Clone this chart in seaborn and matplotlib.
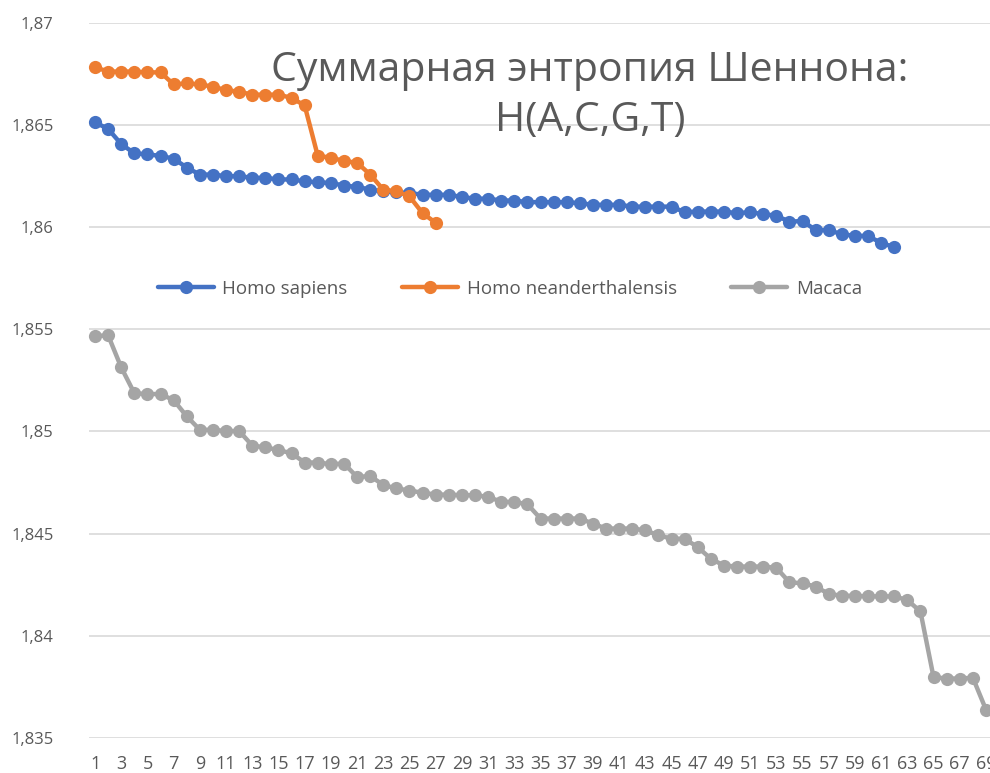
import numpy as np
import pandas as pd
import seaborn as sns
import matplotlib.pyplot as plt
from matplotlib.ticker import FuncFormatter

# values
sapiens = [
    1.86513, 1.86480, 1.86406, 1.86361, 1.86356, 1.86348, 1.86335, 1.86291, 1.86257, 1.86257,
    1.86249, 1.86249, 1.86241, 1.86241, 1.86233, 1.86233, 1.86224, 1.86219, 1.86216, 1.86203,
    1.86197, 1.86183, 1.86175, 1.86170, 1.86167, 1.86158, 1.86158, 1.86158, 1.86147, 1.86139,
    1.86139, 1.86130, 1.86130, 1.86122, 1.86122, 1.86122, 1.86122, 1.86117, 1.86109, 1.86109,
    1.86109, 1.86100, 1.86100, 1.86100, 1.86100, 1.86073, 1.86076, 1.86076, 1.86076, 1.86068,
    1.86073, 1.86063, 1.86056, 1.86026, 1.86030, 1.85985, 1.85985, 1.85965, 1.85957, 1.85957,
    1.85922, 1.85902,
]
neanderthal = [
    1.86782, 1.86761, 1.86761, 1.86761, 1.86757, 1.86757, 1.86698, 1.86703, 1.86698, 1.86687,
    1.86670, 1.86662, 1.86648, 1.86648, 1.86648, 1.86632, 1.86595, 1.86348, 1.86340, 1.86323,
    1.86315, 1.86257, 1.86183, 1.86175, 1.86150, 1.86068, 1.86021,
]
macaca = [
    1.85467, 1.85470, 1.85313, 1.85187, 1.85183, 1.85183, 1.85153, 1.85074, 1.85008, 1.85008,
    1.85002, 1.85002, 1.84931, 1.84922, 1.84909, 1.84893, 1.84848, 1.84848, 1.84840, 1.84843,
    1.84777, 1.84782, 1.84738, 1.84721, 1.84711, 1.84700, 1.84691, 1.84691, 1.84688, 1.84688,
    1.84680, 1.84656, 1.84655, 1.84644, 1.84574, 1.84574, 1.84574, 1.84574, 1.84549, 1.84525,
    1.84525, 1.84525, 1.84516, 1.84492, 1.84475, 1.84475, 1.84434, 1.84377, 1.84344, 1.84339,
    1.84339, 1.84339, 1.84333, 1.84262, 1.84257, 1.84241, 1.84205, 1.84196, 1.84196, 1.84193,
    1.84193, 1.84193, 1.84175, 1.84119, 1.83798, 1.83791, 1.83791, 1.83795, 1.83639,
]
series_names = ['Homo sapiens', 'Homo neanderthalensis', 'Macaca']
colors = ['#4472C4', '#ED7D31', '#A5A5A5']
title = 'Суммарная энтропия Шеннона:\nH(A,C,G,T)'

# long-form table for seaborn
frames = []
for name, vals in zip(series_names, [sapiens, neanderthal, macaca]):
    frames.append(pd.DataFrame({'idx': np.arange(1, len(vals) + 1), 'value': vals, 'series': name}))
df = pd.concat(frames, ignore_index=True)

sns.set_style('white')
plt.rcParams['font.family'] = ['Open Sans', 'DejaVu Sans']

fig = plt.figure(figsize=(9.9, 7.73), dpi=100)
ax = fig.add_axes([88.5 / 990, 35 / 773, 904 / 990, 715.3 / 773])

sns.lineplot(data=df, x='idx', y='value', hue='series', hue_order=series_names,
             palette=colors, marker='o', markersize=9.5, markeredgewidth=0,
             linewidth=3.2, ax=ax, clip_on=False)

ax.set_xlim(0.5, 69.5)
ax.set_ylim(1.835, 1.87)
ax.set_yticks(np.arange(1.835, 1.8701, 0.005))
ax.yaxis.set_major_formatter(FuncFormatter(lambda v, p: f'{v:.3f}'.rstrip('0').replace('.', ',')))
ax.set_xticks(range(1, 70, 2))
ax.grid(axis='y', color='#D9D9D9', linewidth=1.2)
ax.set_axisbelow(True)
for s in ax.spines.values():
    s.set_visible(False)
ax.tick_params(axis='y', labelsize=12, colors='#595959', length=0, pad=25)
ax.tick_params(axis='x', labelsize=13, colors='#595959', length=0, pad=12)
ax.set_xlabel('')
ax.set_ylabel('')

leg = ax.legend(loc='center', bbox_to_anchor=(0.466, 0.628), ncol=3, frameon=False,
                fontsize=13.5, handlelength=3.0, columnspacing=2.9, handletextpad=0.45)
for t in leg.get_texts():
    t.set_color('#595959')

fig.text(590 / 990, 1 - 96 / 773, title, ha='center', va='center',
         fontsize=29.5, color='#595959', linespacing=1.3)

fig.savefig('out.png', dpi=100)
